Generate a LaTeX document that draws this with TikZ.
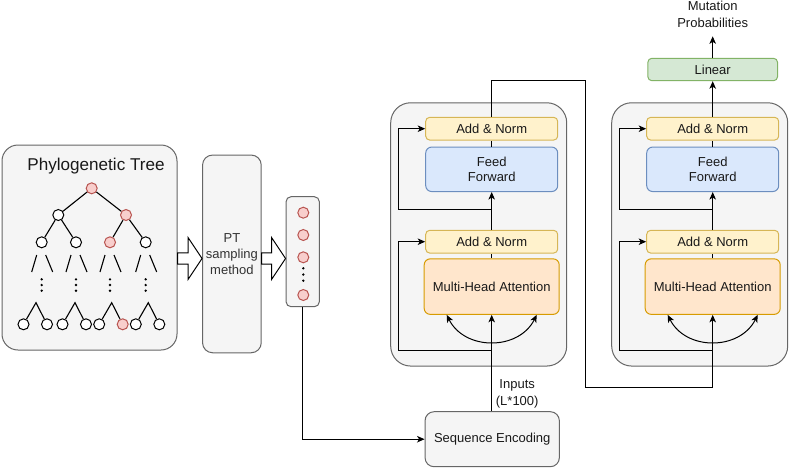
\documentclass[tikz,border=0pt]{standalone}
\usepackage{fontspec}
\setmainfont{Liberation Sans}
\usetikzlibrary{arrows.meta,calc,positioning}

\definecolor{panelfill}{HTML}{F5F5F5}
\definecolor{paneldraw}{HTML}{666666}
\definecolor{normfill}{HTML}{FFF2CC}
\definecolor{normdraw}{HTML}{D6B656}
\definecolor{fffill}{HTML}{DAE8FC}
\definecolor{ffdraw}{HTML}{6C8EBF}
\definecolor{attfill}{HTML}{FFE6CC}
\definecolor{attdraw}{HTML}{D79B00}
\definecolor{linfill}{HTML}{D5E8D4}
\definecolor{lindraw}{HTML}{82B366}
\definecolor{hitfill}{HTML}{F8CECC}
\definecolor{hitdraw}{HTML}{B85450}
\definecolor{ptgray}{HTML}{333333}

% hollow block arrow between two boxes at height #3
\newcommand{\blockarrow}[3]{%
  \path (#1.east |- 0,#3) coordinate (ba1) (#2.west |- 0,#3) coordinate (ba2);
  \draw[line width=1pt, fill=white] ($(ba1)+(0,-5.6)$) -- ($(ba2)+(-14,-5.6)$) -- ($(ba2)+(-14,-21)$)
    -- (ba2) -- ($(ba2)+(-14,21)$) -- ($(ba2)+(-14,5.6)$) -- ($(ba1)+(0,5.6)$) -- cycle;
}

\begin{document}
\begin{tikzpicture}[x=1pt,y=-1pt,
  panel/.style={draw=paneldraw, fill=panelfill, line width=1pt},
  block/.style={draw, line width=1pt, rounded corners=4pt, font=\fontsize{13}{15.5}\selectfont, inner sep=2pt, text=black!90, align=center},
  addnorm/.style={block, fill=normfill, draw=normdraw, minimum width=132pt, minimum height=22.7pt},
  feedfwd/.style={block, fill=fffill, draw=ffdraw, rounded corners=6pt, minimum width=132pt, minimum height=44.5pt},
  attn/.style={block, fill=attfill, draw=attdraw, rounded corners=6pt, minimum width=135pt, minimum height=55.5pt},
  linbox/.style={block, fill=linfill, draw=lindraw, minimum width=129.7pt, minimum height=22.4pt},
  tn/.style={circle, draw=black, fill=white, line width=1pt, minimum size=11pt, inner sep=0pt},
  hit/.style={fill=hitfill, draw=hitdraw},
  tl/.style={line width=1.1pt},
  wire/.style={line width=1pt},
  arr/.style={wire, -{Stealth[length=7.5pt, width=6.5pt, inset=2pt]}},
  arr2/.style={wire, {Stealth[length=7.5pt, width=6.5pt, inset=2pt]}-{Stealth[length=7.5pt, width=6.5pt, inset=2pt]}}]
\useasboundingbox (0,0) rectangle (790,469);

%Left panels
\node[panel, rounded corners=16pt, minimum width=175pt, minimum height=205pt] (treebox) at (89.5,247.5) {};
\node[anchor=base, font=\fontsize{17.1}{20}\selectfont, text=black!90] (title) at (96,170.5) {Phylogenetic Tree};
\node[panel, rounded corners=10pt, minimum width=57.7pt, minimum height=197.7pt, align=center,
  font=\fontsize{13}{16}\selectfont, text=ptgray] (ptbox) at (231.9,253.9) {PT\\sampling\\method};
\node[panel, rounded corners=5pt, minimum width=33.3pt, minimum height=110pt] (seqbox) at (302.7,251.7) {};

%Tree
\node[tn, hit] (r) at (91.7,188.3) {};
\node[tn] (a) at (58.3,215) {};
\node[tn, hit] (b) at (126,215) {};
\node[tn] (aa) at (41.7,242.3) {};
\node[tn] (ab) at (76,242.3) {};
\node[tn, hit] (ba) at (110,242.3) {};
\node[tn] (bb) at (145.7,242.3) {};
\draw[tl] (r) -- (a) (r) -- (b) (a) -- (aa) (a) -- (ab) (b) -- (ba) (b) -- (bb);
\foreach \n/\x/\ax/\rs in {aa/41.7/36/tn, ab/76/75/tn, ba/110/111.7/hit, bb/145.7/148.3/tn} {
  \draw[tl] ($(\n)+(-5,12.7)$) -- ++(-5,17);
  \draw[tl] ($(\n)+(4,12.7)$) -- ++(7,17);
  \foreach \d in {279.3,285,290.7} \fill (\x,\d) circle (1.3);
  \coordinate (\n-t) at (\ax,302.7);
  \node[tn] (\n-l) at (\ax-12.5,324.3) {};
  \node[tn,\rs] (\n-r) at (\ax+11,324.3) {};
  \draw[tl] (\n-l) -- (\n-t) -- (\n-r);
}

%Sampled sequence
\foreach \k/\y in {1/212.7,2/235,3/257.3,4/295} \node[tn, hit] (seq\k) at (303.3,\y) {};
\foreach \d in {268.3,274.5,280.7} \fill (303.3,\d) circle (1.3);

\blockarrow{treebox}{ptbox}{258.5}
\blockarrow{ptbox}{seqbox}{258.5}

\node[panel, rounded corners=9pt, minimum width=134.3pt, minimum height=55pt,
  font=\fontsize{13}{15.5}\selectfont, text=black!90] (encoding) at (492.2,439.2) {Sequence Encoding};
\draw[arr] (seqbox.south) |- (encoding.west);

%Encoder blocks
\foreach \i/\dx in {1/0,2/221} {
  \node[panel, rounded corners=20pt, minimum width=176pt, minimum height=263.3pt] (enc\i) at (478.7+\dx,234.4) {};
  \node[addnorm] (ant\i) at (491.7+\dx,128.7) {Add \& Norm};
  \node[feedfwd] (ff\i) [below=6pt of ant\i] {Feed\\Forward};
  \node[addnorm] (anb\i) [below=37.8pt of ff\i] {Add \& Norm};
  \node[attn] (mha\i) [below=4.8pt of anb\i] {Multi-Head Attention};
  \coordinate (res1\i) at ($(mha\i.south)+(0,35.5)$);
  \coordinate (res2\i) at ($(ff\i.south)+(0,17)$);
  \draw[wire] (mha\i.north) -- (anb\i.south);
  \draw[arr] (anb\i.north) -- (ff\i.south);
  \draw[wire] (ff\i.north) -- (ant\i.south);
  \draw[arr] (res1\i) -| ($(anb\i.west)+(-26.4,0)$) -- (anb\i.west);
  \draw[arr] (res2\i) -| ($(ant\i.west)+(-26.4,0)$) -- (ant\i.west);
  \draw[arr2] ($(mha\i.south)+(-45,0)$) .. controls +(18,36) and +(-18,36) .. ($(mha\i.south)+(45,0)$);
}

\draw[arr] (encoding.north -| mha1.south) -- (mha1.south);
\node[font=\fontsize{13}{17}\selectfont, align=center, inner sep=3pt, anchor=south, text=black!90] (inlbl)
  at ($(encoding.north)+(25,0)$) {Inputs\\(L*100)};
\coordinate (hop) at (585.5,387.7);
\draw[arr] (ant1.north) -- ++(0,-36.6) -| (hop) -| (mha2.south);

%Output head
\node[linbox] (linear) at (712.7,69.5) {Linear};
\draw[arr] (ant2.north) -- (linear.south);
\node[font=\fontsize{13}{16.5}\selectfont, align=center, inner sep=1pt, outer sep=8pt, anchor=south, text=black!90] (mutprob)
  at ($(linear.north)+(0,-21.5)$) {Mutation\\Probabilities};
\draw[arr] (linear.north) -- (mutprob.south);
\end{tikzpicture}
\end{document}
